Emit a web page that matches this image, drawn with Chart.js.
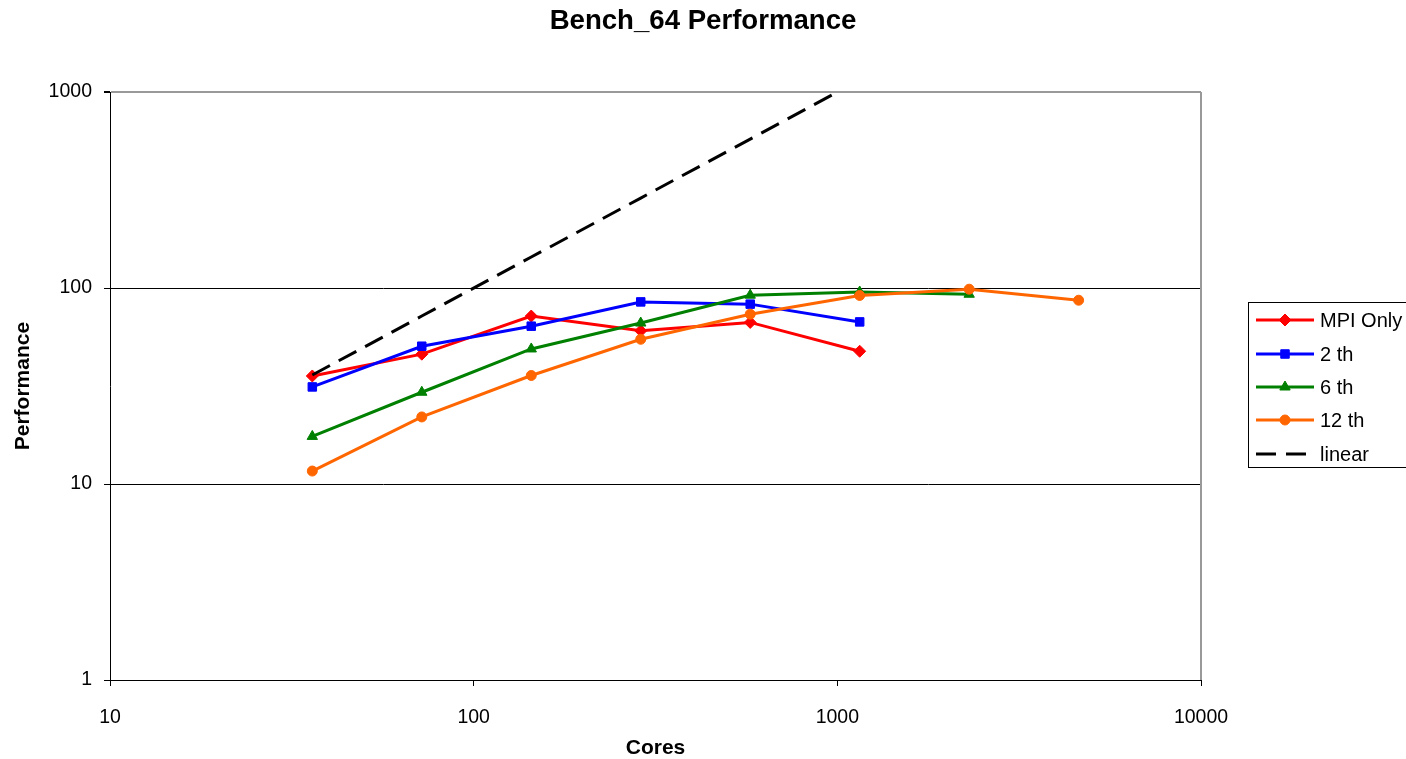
<!DOCTYPE html>
<html>
<head>
<meta charset="utf-8">
<script src="https://cdn.jsdelivr.net/npm/chart.js@4.4.0/dist/chart.umd.min.js"></script>
<style>
  body { margin: 0; background: #fff; }
  #wrap { width: 1406px; height: 759px; }
</style>
</head>
<body>
<div id="wrap"><canvas id="myChart" width="1406" height="759"></canvas></div>
<script>
// data
const cores = [36, 72, 144, 288, 576, 1152, 2304, 4608];
const mpiOnly = [35.6, 46, 72, 60.5, 66.8, 47.6];
const twoTh = [31.3, 50.5, 63.9, 85, 82.8, 67.2];
const sixTh = [17.5, 29.4, 48.9, 66.3, 92, 95.5, 93];
const twelveTh = [11.65, 22, 35.8, 54.8, 73.6, 91.7, 98.7, 86.7];
const linear = [36, 72, 144, 288, 576, 1152];

const xTicks = [10, 100, 1000, 10000];
const yTicks = [1, 10, 100, 1000];

const font = "'Liberation Sans', Arial, sans-serif";
const ctx = document.getElementById("myChart");

const toPoints = (vals) => vals.map((v, i) => ({ x: cores[i], y: v }));

const series = [
  { label: "MPI Only", data: mpiOnly, color: "#ff0000", style: "rectRot", r: 6 },
  { label: "2 th", data: twoTh, color: "#0000ff", style: "rect", r: 6 },
  { label: "6 th", data: sixTh, color: "#008000", style: "triangle", r: 6 },
  { label: "12 th", data: twelveTh, color: "#ff6600", style: "circle", r: 5 },
];

const datasets = series.map((s, i) => ({
  label: s.label,
  data: toPoints(s.data),
  borderColor: s.color,
  backgroundColor: s.color,
  borderWidth: 3,
  pointStyle: s.style,
  pointRadius: s.r,
  pointBorderWidth: 1,
  order: 5 - i,
}));
datasets.push({
  label: "linear",
  data: toPoints(linear),
  borderColor: "#000",
  backgroundColor: "#000",
  borderWidth: 3,
  borderDash: [20, 10],
  pointRadius: 0,
  clip: 0,
  order: 1,
});

// plot frame on the right + the boxed legend
const frameLegend = {
  id: "frameLegend",
  afterDraw(chart) {
    const c = chart.ctx;
    const a = chart.chartArea;
    c.save();
    c.strokeStyle = "#999";
    c.lineWidth = 2;
    c.beginPath();
    c.moveTo(a.right, a.top);
    c.lineTo(a.right, a.bottom);
    c.stroke();

    c.strokeStyle = "#000";
    c.lineWidth = 1;
    c.strokeRect(1248.5, 302.5, 170, 165);

    const rows = [320, 354, 387, 420, 454];
    chart.data.datasets.forEach((ds, i) => {
      const y = rows[i];
      c.strokeStyle = ds.borderColor;
      c.fillStyle = ds.backgroundColor;
      c.lineWidth = 3;
      c.setLineDash(ds.borderDash || []);
      c.beginPath();
      c.moveTo(1256, y);
      c.lineTo(1314, y);
      c.stroke();
      c.setLineDash([]);
      if (ds.pointRadius > 0) {
        c.lineWidth = 1;
        if (Chart.helpers && Chart.helpers.drawPoint) {
          Chart.helpers.drawPoint(c, { pointStyle: ds.pointStyle, radius: ds.pointRadius, rotation: 0, borderWidth: 1 }, 1285, y);
        } else {
          c.beginPath();
          c.arc(1285, y, ds.pointRadius, 0, Math.PI * 2);
          c.fill();
        }
      }
      c.fillStyle = "#000";
      c.font = "20px " + font;
      c.textBaseline = "middle";
      c.textAlign = "left";
      c.fillText(ds.label, 1320, y + 1);
    });
    c.restore();
  },
};

new Chart(ctx, {
  type: "line",
  data: { datasets: datasets },
  plugins: [frameLegend],
  options: {
    responsive: false,
    animation: false,
    layout: { padding: 0 },
    plugins: {
      legend: { display: false },
      tooltip: { enabled: false },
      title: {
        display: true,
        text: "Bench_64 Performance",
        color: "#000",
        font: { family: font, size: 27.6, weight: "bold", lineHeight: 1.2 },
        padding: { top: 5, bottom: 54 },
      },
    },
    scales: {
      x: {
        type: "logarithmic",
        position: "bottom",
        min: 10,
        max: 10000,
        afterBuildTicks: (s) => { s.ticks = xTicks.map((v) => ({ value: v })); },
        afterFit: (s) => { s.height = 79; },
        ticks: {
          autoSkip: false,
          maxRotation: 0,
          color: "#000",
          padding: 20,
          font: { family: font, size: 19.5 },
          callback: (v) => String(v),
        },
        grid: { drawOnChartArea: false, drawTicks: true, tickLength: 6, tickColor: "#000" },
        border: { color: "#000", width: 1 },
        title: {
          display: true,
          text: "Cores",
          color: "#000",
          font: { family: font, size: 21, weight: "bold", lineHeight: 1 },
          padding: { top: 0, bottom: 0 },
        },
      },
      y: {
        type: "logarithmic",
        min: 1,
        max: 1000,
        afterBuildTicks: (s) => { s.ticks = yTicks.map((v) => ({ value: v })); },
        afterFit: (s) => { s.width = 110; },
        ticks: {
          autoSkip: false,
          color: "#000",
          padding: 12,
          font: { family: font, size: 19.5 },
          callback: (v) => String(v),
        },
        grid: {
          drawTicks: true,
          tickLength: 6,
          tickColor: "#000",
          color: (c) => (c.tick && c.tick.value === 1000 ? "#999" : "#000"),
          lineWidth: (c) => (c.tick && c.tick.value === 1000 ? 2 : 1),
        },
        border: { color: "#000", width: 1 },
        title: {
          display: true,
          text: "Performance",
          color: "#000",
          font: { family: font, size: 21, weight: "bold", lineHeight: 1 },
          padding: { top: 13, bottom: 0 },
        },
      },
      // empty axis on the right only to reserve the legend strip
      side: {
        type: "linear",
        position: "right",
        afterFit: (s) => { s.width = 205; },
        ticks: { display: false },
        grid: { display: false },
        border: { display: false },
      },
    },
  },
});
</script>
</body>
</html>
